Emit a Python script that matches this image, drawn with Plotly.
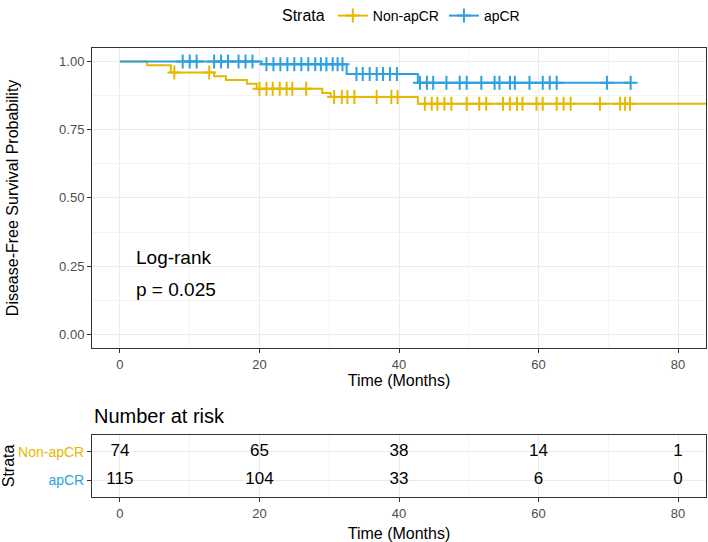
import numpy as np
import plotly.graph_objects as go

# ---------------- data ----------------
strata = ["Non-apCR", "apCR"]
colors = {"Non-apCR": "#E7B800", "apCR": "#2E9FDF"}

# Kaplan-Meier step curves (time in months, survival probability)
non_apcr_times = [0, 3.9, 7.3, 13.5, 15.2, 18.2, 19.6, 29.0, 30.2, 42.7, 86.0]
non_apcr_surv = [1.0, 0.986, 0.959, 0.946, 0.932, 0.918, 0.900, 0.884, 0.870, 0.845, 0.845]
non_apcr_censor = [7.8, 12.8, 20.0, 21.0, 21.9, 22.9, 23.9, 24.7, 26.7, 30.7, 31.8, 32.6,
                   33.6, 36.8, 38.9, 39.8, 43.7, 44.7, 45.5, 46.5, 47.5, 49.7, 51.5, 52.5,
                   54.9, 55.9, 56.9, 57.7, 59.7, 60.6, 62.6, 63.6, 64.6, 68.8, 71.7, 72.4, 73.1]

apcr_times = [0, 20.3, 32.5, 42.7, 73.3]
apcr_surv = [1.0, 0.990, 0.954, 0.922, 0.922]
apcr_censor = [9.0, 10.0, 11.0, 13.5, 14.5, 15.5, 17.0, 18.0, 19.0, 21.0, 22.0, 23.0, 24.0,
               25.0, 26.0, 27.0, 28.0, 28.8, 29.6, 30.5, 31.2, 31.9, 33.9, 34.8, 35.8, 36.8,
               37.7, 38.7, 39.7, 43.0, 44.0, 44.9, 46.8, 48.7, 49.7, 51.8, 53.7, 54.4, 55.9,
               56.6, 58.7, 60.6, 61.6, 62.6, 69.8, 73.2]

risk_times = [0, 20, 40, 60, 80]
risk_non_apcr = [74, 65, 38, 14, 1]
risk_apcr = [115, 104, 33, 6, 0]

y_ticks = [0, 0.25, 0.5, 0.75, 1.0]
x_ticks = [0, 20, 40, 60, 80]
pval_text = ["Log-rank", "p = 0.025"]

# ---------------- figure ----------------
W, H = 708, 542
FONT = "Liberation Sans, Arial, sans-serif"

def px_x(p):
    return p / W

def px_y(p):
    return (H - p) / H

curves = {
    "Non-apCR": (non_apcr_times, non_apcr_surv, non_apcr_censor),
    "apCR": (apcr_times, apcr_surv, apcr_censor),
}

fig = go.Figure()
for name in strata:
    t, s, c = curves[name]
    col = colors[name]
    fig.add_trace(go.Scatter(x=t, y=s, mode="lines", line=dict(color=col, width=2, shape="hv"),
                             showlegend=False, xaxis="x", yaxis="y", hoverinfo="skip"))
    t_arr = np.array(t)
    s_arr = np.array(s)
    idx = np.searchsorted(t_arr, np.array(c), side="right") - 1
    fig.add_trace(go.Scatter(x=c, y=s_arr[idx], mode="markers",
                             marker=dict(symbol="cross-thin-open", size=10, color=col,
                                         line=dict(color=col, width=2)),
                             showlegend=False, xaxis="x", yaxis="y"))

# legend-only entries
for name in strata:
    col = colors[name]
    fig.add_trace(go.Scatter(x=[None], y=[None], mode="lines+markers", name=name,
                             line=dict(color=col, width=2),
                             marker=dict(symbol="cross-thin-open", size=10, color=col,
                                         line=dict(color=col, width=2)),
                             xaxis="x", yaxis="y"))

# risk table
risk_vals = {"Non-apCR": (risk_non_apcr, 2), "apCR": (risk_apcr, 1)}
for name in strata:
    vals, ypos = risk_vals[name]
    fig.add_trace(go.Scatter(x=risk_times, y=[ypos] * len(risk_times), mode="text",
                             text=[str(v) for v in vals],
                             textfont=dict(family=FONT, size=17, color="black"),
                             showlegend=False, xaxis="x2", yaxis="y2", hoverinfo="skip"))

# Log-rank text
fig.add_annotation(x=2, y=0.28, xref="x", yref="y", text=pval_text[0], showarrow=False,
                   xanchor="left", yanchor="middle", font=dict(family=FONT, size=19, color="black"))
fig.add_annotation(x=2, y=0.165, xref="x", yref="y", text=pval_text[1], showarrow=False,
                   xanchor="left", yanchor="middle", font=dict(family=FONT, size=19, color="black"))

# "Number at risk" title
fig.add_annotation(x=px_x(92), y=px_y(415), xref="paper", yref="paper", text="Number at risk",
                   showarrow=False, xanchor="left", yanchor="middle",
                   font=dict(family=FONT, size=20, color="black"))

axis_common = dict(
    showline=True, mirror=True, linecolor="#333333", linewidth=1,
    ticks="outside", ticklen=4, tickcolor="#333333", tickwidth=1,
    showgrid=True, gridcolor="#EBEBEB", gridwidth=1, zeroline=False,
    tickfont=dict(family=FONT, size=13, color="#4D4D4D"),
    automargin=False,
)

x_dom = [px_x(92), px_x(706)]
fig.update_layout(
    width=W, height=H,
    margin=dict(l=0, r=0, t=0, b=0),
    paper_bgcolor="white", plot_bgcolor="white",
    font=dict(family=FONT, color="black"),
    xaxis=dict(domain=x_dom, range=[-4, 84], tickvals=x_ticks, anchor="y",
               minor=dict(dtick=10, showgrid=True, gridcolor="#F4F4F4", ticks=""),
               title=dict(text="Time (Months)", font=dict(family=FONT, size=16), standoff=4),
               **axis_common),
    yaxis=dict(domain=[px_y(347), px_y(45)], range=[-0.05, 1.05], tickvals=y_ticks,
               tickformat=".2f", anchor="x",
               minor=dict(dtick=0.125, tick0=0, showgrid=True, gridcolor="#F4F4F4", ticks=""),
               title=dict(text="Disease-Free Survival Probability", font=dict(family=FONT, size=16),
                          standoff=36),
               **axis_common),
    xaxis2=dict(domain=x_dom, range=[-4, 84], tickvals=x_ticks, anchor="y2",
                minor=dict(dtick=10, showgrid=True, gridcolor="#F4F4F4", ticks=""),
                title=dict(text="Time (Months)", font=dict(family=FONT, size=16), standoff=8),
                **axis_common),
    yaxis2=dict(domain=[px_y(497), px_y(434)], range=[0.4, 2.6], tickvals=[1, 2], anchor="x2",
                ticktext=[f"<span style='color:{colors['apCR']}'>apCR</span>",
                          f"<span style='color:{colors['Non-apCR']}'>Non-apCR</span>"],
                minor=dict(dtick=10, showgrid=False),
                title=dict(text="Strata", font=dict(family=FONT, size=16), standoff=4),
                **{k: v for k, v in axis_common.items() if k != "tickfont"},
                tickfont=dict(family=FONT, size=14)),
    legend=dict(orientation="h", x=px_x(280), xanchor="left", y=1.006, yanchor="top",
                title=dict(text="Strata", font=dict(family=FONT, size=16, color="black")),
                font=dict(family=FONT, size=14, color="black"),
                bgcolor="rgba(0,0,0,0)"),
)

fig.write_html("out.html")
